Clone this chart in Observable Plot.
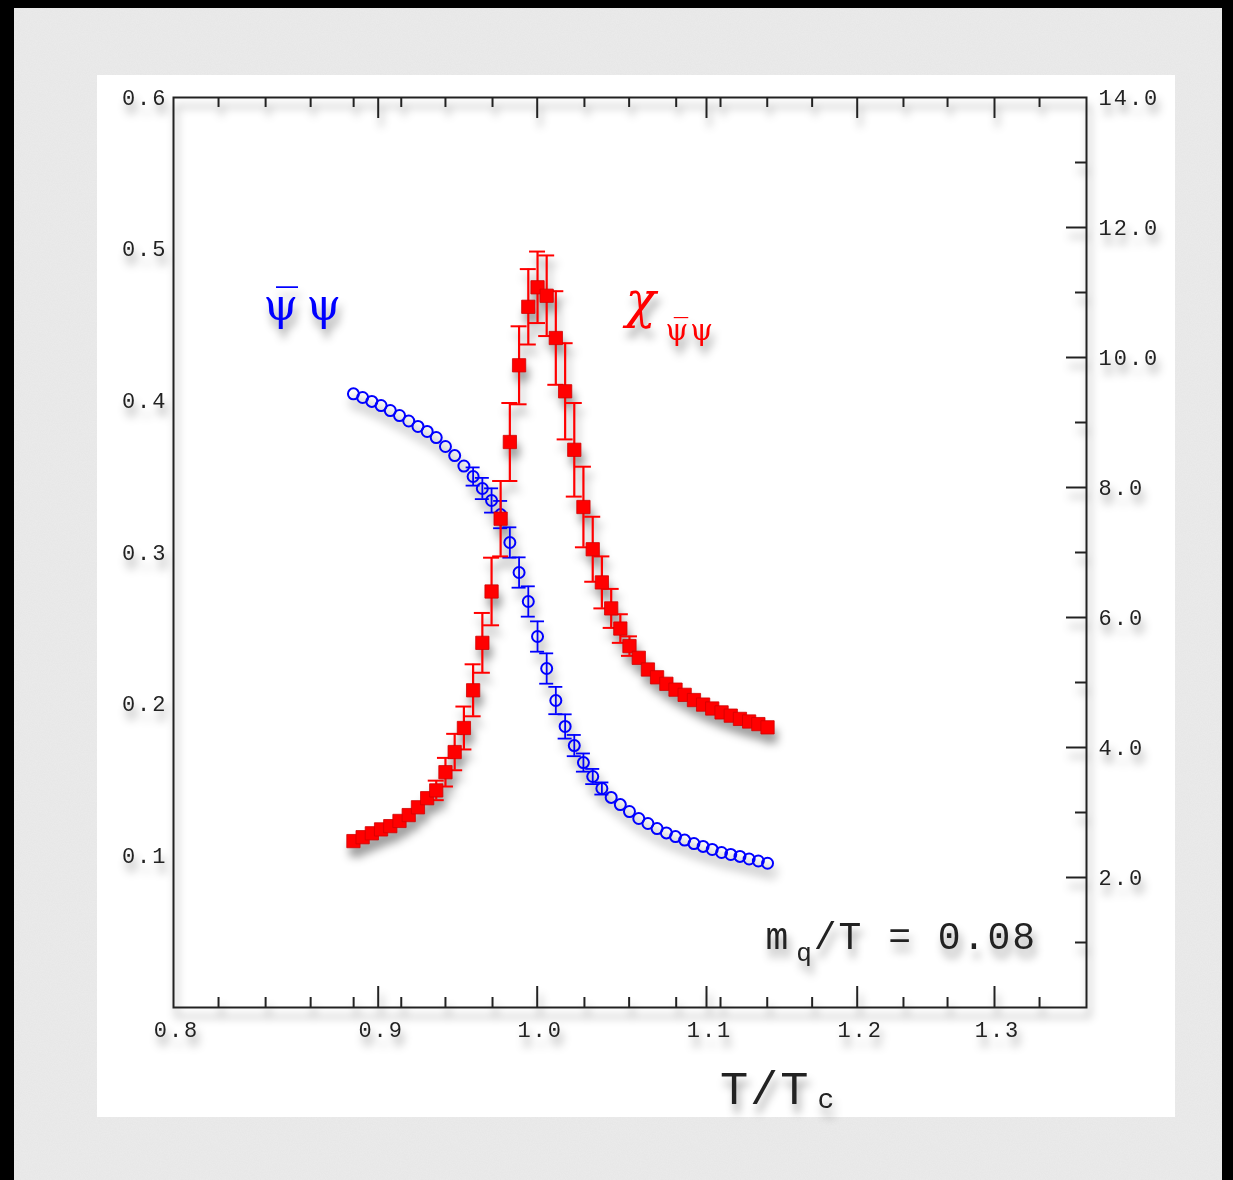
<!DOCTYPE html>
<html>
<head>
<meta charset="utf-8">
<script src="https://cdn.jsdelivr.net/npm/d3@7"></script>
<script src="https://cdn.jsdelivr.net/npm/@observablehq/plot@0.6"></script>
<style>
html, body { margin: 0; padding: 0; background: #000; }
body { width: 1233px; height: 1180px; position: relative; overflow: hidden; }
#bg { position: absolute; left: 14px; top: 8px; width: 1208px; height: 1172px; background-color: #ebebeb;
  background-image: url("data:image/svg+xml;utf8,<svg xmlns='http://www.w3.org/2000/svg' width='240' height='240'><filter id='n'><feTurbulence type='fractalNoise' baseFrequency='0.9' numOctaves='2' seed='3'/><feColorMatrix values='0 0 0 0 0.5 0 0 0 0 0.5 0 0 0 0 0.5 0 0 0 0.10 0'/></filter><rect width='100%' height='100%' filter='url(%23n)'/></svg>"); }
#panel { position: absolute; left: 97px; top: 75px; width: 1078px; height: 1042px; background: #fff; }
#panel svg { filter: drop-shadow(3px 9px 4px rgba(0,0,0,0.38)); }
</style>
</head>
<body>
<div id="bg"></div>
<div id="panel"></div>
<script>
// ---- data ----
const T = [0.8879, 0.8924, 0.8969, 0.9018, 0.9076, 0.9134, 0.9192, 0.9250, 0.9308, 0.9365,
  0.9423, 0.9481, 0.9539, 0.9597, 0.9655, 0.9713, 0.9770, 0.9828, 0.9886, 0.9944,
  1.0002, 1.0056, 1.0110, 1.0165, 1.0219, 1.0273, 1.0328, 1.0382, 1.0437, 1.0491,
  1.0545, 1.0600, 1.0654, 1.0708, 1.0763, 1.0817, 1.0871, 1.0926, 1.0980, 1.1038,
  1.1100, 1.1161, 1.1222, 1.1283, 1.1344, 1.1405];
const pbp = [0.4046, 0.4022, 0.3996, 0.3969, 0.3936, 0.3903, 0.3867, 0.3831, 0.3798, 0.3758,
  0.3699, 0.3639, 0.3570, 0.3501, 0.3422, 0.3343, 0.3250, 0.3066, 0.2868, 0.2677,
  0.2446, 0.2235, 0.2024, 0.1853, 0.1727, 0.1615, 0.1523, 0.1444, 0.1385, 0.1338,
  0.1292, 0.1246, 0.1213, 0.1180, 0.1151, 0.1127, 0.1104, 0.1081, 0.1062, 0.1042,
  0.1022, 0.1009, 0.0996, 0.0979, 0.0966, 0.0951];
const pbpErr = [0, 0, 0, 0, 0, 0, 0, 0, 0, 0,
  0, 0, 0, 0.006, 0.007, 0.008, 0.009, 0.010, 0.010, 0.010,
  0.010, 0.010, 0.009, 0.008, 0.007, 0.006, 0.005, 0.004, 0, 0,
  0, 0, 0, 0, 0, 0, 0, 0, 0, 0,
  0, 0, 0, 0, 0, 0];
const chi = [2.56, 2.62, 2.68, 2.74, 2.79, 2.87, 2.96, 3.08, 3.22, 3.34,
  3.62, 3.93, 4.30, 4.88, 5.61, 6.40, 7.52, 8.70, 9.88, 10.78,
  11.08, 10.95, 10.30, 9.48, 8.58, 7.70, 7.05, 6.54, 6.14, 5.83,
  5.56, 5.38, 5.20, 5.08, 4.98, 4.89, 4.81, 4.73, 4.66, 4.60,
  4.54, 4.49, 4.44, 4.40, 4.36, 4.31];
const chiErr = [0, 0, 0, 0, 0, 0, 0, 0, 0, 0.15,
  0.22, 0.28, 0.33, 0.40, 0.46, 0.52, 0.58, 0.60, 0.60, 0.58,
  0.55, 0.62, 0.72, 0.74, 0.72, 0.62, 0.50, 0.40, 0.30, 0.22,
  0.15, 0, 0, 0, 0, 0, 0, 0, 0, 0,
  0, 0, 0, 0, 0, 0];

// axis ticks / labels
const xLabels = [0.8, 0.9, 1.0, 1.1, 1.2, 1.3];
const xMajorTicks = [0.9, 1.0, 1.1, 1.2, 1.3];
const xMinorTicks = [0.822, 0.845, 0.867, 0.888, 0.9145, 0.9423, 0.9719, 1.0279, 1.0543, 1.0821,
  1.1093, 1.1403, 1.1701, 1.2337, 1.2658, 1.3328];
const pbpTicks = [0.1, 0.2, 0.3, 0.4, 0.5, 0.6];
const chiLabels = [2, 4, 6, 8, 10, 12, 14];
const chiMajorTicks = [2, 4, 6, 8, 10, 12];
const chiMinorTicks = [1, 3, 5, 7, 9, 11, 13];

// the printed x axis is not evenly spaced: warp T/Tc piecewise through the labelled values
const xBreaks = [0.8, 0.9, 1.0, 1.1, 1.2, 1.3, 1.367];
const xBreakPos = [76, 280.7, 439.7, 609, 759.7, 897, 989];
const warp = d3.scaleLinear().domain(xBreaks).range(xBreakPos);

const pbpRange = [0, 0.6];
const chiRange = [0, 14];
const k = (pbpRange[1] - pbpRange[0]) / (chiRange[1] - chiRange[0]);

const rows = T.map((t, i) => ({t, pbp: pbp[i], pbpErr: pbpErr[i], chi: chi[i], chiErr: chiErr[i]}));
const pbpE = rows.filter(d => d.pbpErr > 0);
const chiE = rows.filter(d => d.chiErr > 0);

const ink = "#222";
const blue = "#0000ff";
const red = "#ff0000";
const tickFont = 22;

const chart = Plot.plot({
  width: 1078,
  height: 1042,
  marginLeft: 76,
  marginRight: 89,
  marginTop: 22,
  marginBottom: 110,
  style: {background: "transparent", fontFamily: "'Liberation Mono', monospace", color: ink, letterSpacing: "2px", overflow: "hidden"},
  x: {transform: warp, domain: [xBreakPos[0], xBreakPos[xBreakPos.length - 1]]},
  y: {domain: pbpRange},
  marks: [
    Plot.frame({stroke: ink, strokeWidth: 2}),
    // inward ticks
    Plot.ruleX(xMajorTicks, {insetTop: 889, stroke: ink, strokeWidth: 2}),
    Plot.ruleX(xMinorTicks, {insetTop: 900, stroke: ink, strokeWidth: 2}),
    Plot.ruleX(xMajorTicks, {insetBottom: 889, stroke: ink, strokeWidth: 2}),
    Plot.ruleX(xMinorTicks, {insetBottom: 900, stroke: ink, strokeWidth: 2}),
    Plot.ruleY(chiMajorTicks.map(v => v * k), {insetLeft: 893, stroke: ink, strokeWidth: 2}),
    Plot.ruleY(chiMinorTicks.map(v => v * k), {insetLeft: 902, stroke: ink, strokeWidth: 2}),
    // tick labels
    Plot.axisX(xLabels, {anchor: "bottom", tickSize: 0, tickPadding: 14, dx: 3, fontSize: tickFont, tickFormat: d3.format(".1f"), label: null}),
    Plot.axisY(pbpTicks, {anchor: "left", tickSize: 0, tickPadding: 6, fontSize: tickFont, tickFormat: d3.format(".1f"), label: null}),
    Plot.axisY(chiLabels.map(v => v * k), {anchor: "right", tickSize: 0, tickPadding: 12, fontSize: tickFont, tickFormat: d => (d / k).toFixed(1), label: null}),
    // chiral condensate (left axis)
    Plot.ruleX(pbpE, {x: "t", y1: d => d.pbp - d.pbpErr, y2: d => d.pbp + d.pbpErr, stroke: blue, strokeWidth: 1.8}),
    Plot.ruleY(pbpE, {x1: "t", x2: "t", y: d => d.pbp + d.pbpErr, insetLeft: -7, insetRight: -7, stroke: blue, strokeWidth: 1.8}),
    Plot.ruleY(pbpE, {x1: "t", x2: "t", y: d => d.pbp - d.pbpErr, insetLeft: -7, insetRight: -7, stroke: blue, strokeWidth: 1.8}),
    Plot.dot(rows, {x: "t", y: "pbp", r: 5.5, stroke: blue, strokeWidth: 2, fill: "none"}),
    // susceptibility (right axis)
    Plot.ruleX(chiE, {x: "t", y1: d => (d.chi - d.chiErr) * k, y2: d => (d.chi + d.chiErr) * k, stroke: red, strokeWidth: 2.2}),
    Plot.ruleY(chiE, {x1: "t", x2: "t", y: d => (d.chi + d.chiErr) * k, insetLeft: -8, insetRight: -8, stroke: red, strokeWidth: 2}),
    Plot.ruleY(chiE, {x1: "t", x2: "t", y: d => (d.chi - d.chiErr) * k, insetLeft: -8, insetRight: -8, stroke: red, strokeWidth: 2}),
    Plot.dot(rows, {x: "t", y: d => d.chi * k, symbol: "square", r: 7.5, fill: red, stroke: "#d00000", strokeWidth: 0.8}),
    // annotations
    Plot.text(["\u03C8\u0305\u200A\u03C8"], {x: 0.844, y: 0.4530, text: d => d, textAnchor: "start", lineAnchor: "bottom", fontSize: 44, fontFamily: "'DejaVu Serif', serif", fill: blue}),
    Plot.text(["\u03C7"], {x: 1.0522, y: 0.4556, text: d => d, textAnchor: "start", lineAnchor: "bottom", fontSize: 50, fontStyle: "italic", fontFamily: "'DejaVu Serif', serif", fill: red}),
    Plot.text(["\u03C8\u0305\u03C8"], {x: 1.0758, y: 0.4398, text: d => d, textAnchor: "start", lineAnchor: "bottom", fontSize: 29, fontFamily: "'DejaVu Serif', serif", fill: red}),
    Plot.text(["m"], {x: 1.1392, y: 0.0389, text: d => d, textAnchor: "start", lineAnchor: "bottom", fontSize: 38, fill: ink}),
    Plot.text(["q"], {x: 1.1595, y: 0.0389, dy: 12, text: d => d, textAnchor: "start", lineAnchor: "bottom", fontSize: 26, fill: ink}),
    Plot.text(["/T = 0.08"], {x: 1.1712, y: 0.0389, text: d => d, textAnchor: "start", lineAnchor: "bottom", fontSize: 38, fill: ink}),
    Plot.text(["T/T"], {x: 1.1089, frameAnchor: "bottom", dy: 96, text: d => d, textAnchor: "start", lineAnchor: "bottom", fontSize: 47, fill: ink}),
    Plot.text(["c"], {x: 1.1737, frameAnchor: "bottom", dy: 100, text: d => d, textAnchor: "start", lineAnchor: "bottom", fontSize: 28, fill: ink})
  ]
});
document.getElementById("panel").appendChild(chart);
</script>
</body>
</html>
